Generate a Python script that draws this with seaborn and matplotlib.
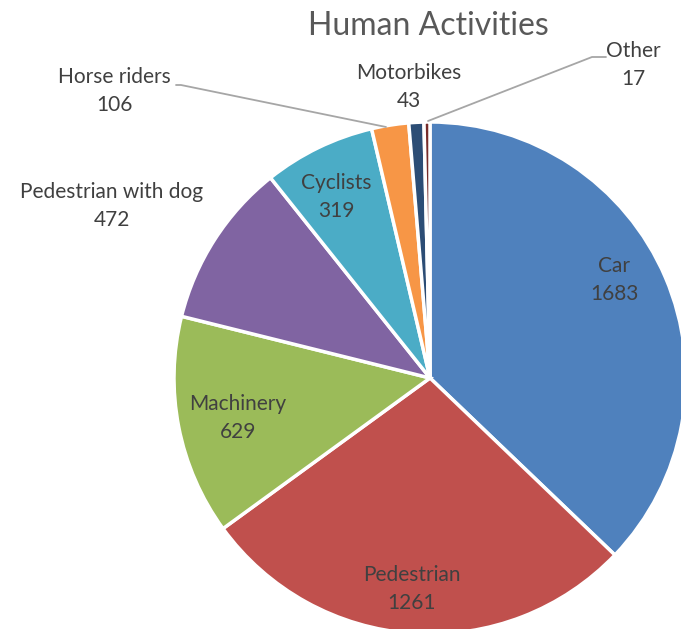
import matplotlib
matplotlib.use("Agg")
import matplotlib.pyplot as plt
import seaborn as sns

categories = ["Car", "Pedestrian", "Machinery", "Pedestrian with dog",
              "Cyclists", "Horse riders", "Motorbikes", "Other"]
values = [1683, 1261, 629, 472, 319, 106, 43, 17]
colors = ["#4F81BD", "#C0504D", "#9BBB59", "#8064A2",
          "#4BACC6", "#F79646", "#2C4D75", "#772C2A"]

sns.set_theme(style="white")
plt.rcParams["font.family"] = ["Lato", "DejaVu Sans"]

W, H = 681, 629
fig = plt.figure(figsize=(W / 100, H / 100), dpi=100)
cx, cy, R = 430, 378, 256
ax = fig.add_axes([(cx - R) / W, (H - cy - R) / H, 2 * R / W, 2 * R / H])

wedges, _ = ax.pie(values, colors=colors, startangle=90, counterclock=False,
                   radius=1, wedgeprops=dict(edgecolor="white", linewidth=2.5))
for w in wedges:
    w.set_clip_on(False)
ax.set_xlim(-1, 1)
ax.set_ylim(-1, 1)
ax.axis("off")

def d(px, py):
    return ((px - cx) / R, (cy - py) / R)

label_pos = {
    "Car": (614, 280),
    "Pedestrian": (412, 589),
    "Machinery": (238, 418),
    "Pedestrian with dog": (112, 206),
    "Cyclists": (336, 197),
    "Horse riders": (114, 91),
    "Motorbikes": (409, 87),
    "Other": (633, 65),
}
txtcol = "#404040"
for cat, val in zip(categories, values):
    x, y = d(*label_pos[cat])
    ax.text(x, y, f"{cat}\n{val}", ha="center", va="center", fontsize=15,
            color=txtcol, linespacing=1.45, clip_on=False)

lc = "#A6A6A6"
for pts in ([(176, 85), (181, 85), (386, 127)],
            [(428, 121), (592, 57), (606, 57)]):
    xs, ys = zip(*[d(*p) for p in pts])
    ax.plot(xs, ys, color=lc, lw=1.3, clip_on=False)

fig.text(428 / W, 1 - 26 / H, "Human Activities", ha="center", va="center",
         fontsize=23, color="#595959")

fig.savefig("out.png", dpi=100)
